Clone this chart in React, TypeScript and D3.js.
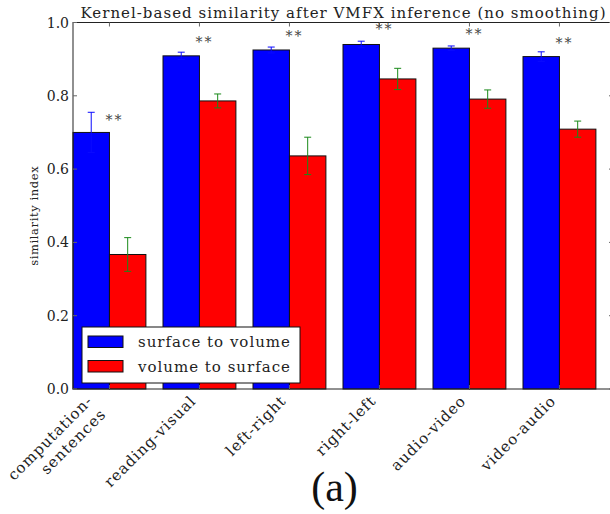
import React from "react";
import * as d3 from "d3";

const categories: string[][] = [
  ["computation-", "sentences"],
  ["reading-visual"],
  ["left-right"],
  ["right-left"],
  ["audio-video"],
  ["video-audio"],
];
const surfaceToVolume = [0.700, 0.909, 0.925, 0.940, 0.930, 0.907];
const surfaceToVolumeErr = [0.055, 0.010, 0.008, 0.009, 0.006, 0.013];
const volumeToSurface = [0.367, 0.786, 0.636, 0.846, 0.791, 0.709];
const volumeToSurfaceErr = [0.046, 0.019, 0.051, 0.029, 0.025, 0.022];
const starHeights = [0.743, 0.955, 0.971, 0.990, 0.977, 0.952];
const yTicks = [0.0, 0.2, 0.4, 0.6, 0.8, 1.0];
const seriesNames = ["surface to volume", "volume to surface"];
const title = "Kernel-based similarity after VMFX inference (no smoothing)";
const yLabel = "similarity index";
const panelLabel = "(a)";

const W = 610, H = 514;
const left = 73, right = 613, top = 22.5, bottom = 389;
const barW = 0.405;
const FONT = "'DejaVu Serif', serif";

export default function App() {
  const x = d3.scaleLinear().domain([0, categories.length]).range([left, right]);
  const y = d3.scaleLinear().domain([0, 1]).range([bottom, top]);
  const bw = x(barW) - x(0);
  const capHalf = 3.5;

  const series = [
    { vals: surfaceToVolume, err: surfaceToVolumeErr, color: "#0000ff", ecolor: "#0a0aff", off: 0 },
    { vals: volumeToSurface, err: volumeToSurfaceErr, color: "#ff0000", ecolor: "#1a8a1a", off: barW },
  ];

  const legendX = 82, legendY = 327, legendW = 218, legendH = 56;

  return (
    <svg width={W} height={H} style={{ position: "absolute", left: 0, top: 0, background: "#fff" }}
      fontFamily={FONT}>
      <rect x={0} y={0} width={W} height={H} fill="#fff" />
      {series.map((s, si) =>
        s.vals.map((v, i) => (
          <rect key={`b${si}-${i}`} x={x(i + s.off)} y={y(v)} width={bw} height={y(0) - y(v)}
            fill={s.color} stroke="#111" strokeWidth={1} />
        ))
      )}
      {series.map((s, si) =>
        s.vals.map((v, i) => {
          const cx = x(i + s.off + barW / 2);
          const y1 = y(v + s.err[i]), y2 = y(v - s.err[i]);
          return (
            <g key={`e${si}-${i}`} stroke={s.ecolor} strokeWidth={1}>
              <line x1={cx} x2={cx} y1={y1} y2={y2} />
              <line x1={cx - capHalf} x2={cx + capHalf} y1={y1} y2={y1} />
              <line x1={cx - capHalf} x2={cx + capHalf} y1={y2} y2={y2} />
            </g>
          );
        })
      )}
      <rect x={left} y={top} width={right - left} height={bottom - top} fill="none" stroke="#222" strokeWidth={1} />
      {categories.map((_, i) => (
        <g key={`xt${i}`} stroke="#666" strokeWidth={1}>
          <line x1={x(i + barW)} x2={x(i + barW)} y1={top} y2={top + 4} />
          <line x1={x(i + barW)} x2={x(i + barW)} y1={bottom} y2={bottom - 4} />
        </g>
      ))}
      {yTicks.map((t) => (
        <g key={`yt${t}`}>
          <line x1={left} x2={left + 4} y1={y(t)} y2={y(t)} stroke="#666" />
          <line x1={right} x2={right - 4} y1={y(t)} y2={y(t)} stroke="#666" />
          <text x={left - 4} y={y(t)} dy="0.36em" textAnchor="end" fontSize={14} fill="#222">
            {t.toFixed(1)}
          </text>
        </g>
      ))}
      {starHeights.map((h, i) => (
        <text key={`s${i}`} x={x(i + barW) + 5} y={y(h) + 8} textAnchor="middle" fontSize={14}
          letterSpacing={2} fill="#444">**</text>
      ))}
      {categories.map((lines, i) => {
        const tx = x(i + barW);
        const lh = 19, desc = 3.6, asc = 11;
        const n = lines.length;
        const bx = tx - 0.707 * ((n - 1) * lh + desc);
        const by = bottom + 5 + 0.707 * asc;
        return lines.map((ln, k) => (
          <text key={`xl${i}-${k}`} transform={`translate(${bx + 0.707 * k * lh},${by + 0.707 * k * lh}) rotate(-45)`}
            textAnchor="end" fontSize={15} letterSpacing={1} fill="#222">{ln}</text>
        ));
      })}
      <text transform={`translate(38,${(top + bottom) / 2 + 10}) rotate(-90)`} textAnchor="middle"
        fontSize={11.5} letterSpacing={0.6} fill="#222">{yLabel}</text>
      <text x={(left + right) / 2} y={18} textAnchor="middle" fontSize={15} textLength={525}
        lengthAdjust="spacing" fill="#222">{title}</text>
      <rect x={legendX} y={legendY} width={legendW} height={legendH} fill="#fff" stroke="#111" strokeWidth={1} />
      {seriesNames.map((nm, k) => (
        <g key={`lg${k}`}>
          <rect x={legendX + 6} y={legendY + 9 + k * 24.5} width={35} height={11.5}
            fill={series[k].color} stroke="#111" strokeWidth={1} />
          <text x={legendX + 56} y={legendY + 20 + k * 25} fontSize={15} letterSpacing={1} fill="#222">{nm}</text>
        </g>
      ))}
      <text x={334.5} y={501} textAnchor="middle" fontSize={42} fontFamily="'Liberation Serif', serif" fill="#111">
        {panelLabel}
      </text>
    </svg>
  );
}
